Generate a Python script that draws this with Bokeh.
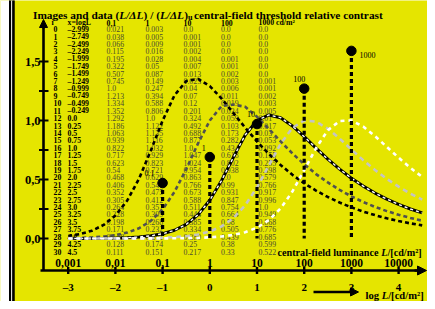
from bokeh.plotting import figure
from bokeh.models import Range1d, Arrow, NormalHead
from bokeh.core.properties import value
from bokeh.embed import file_html
from bokeh.resources import INLINE

# ---------------- data ----------------
row_index = list(range(31))
log_l = [-2.999, -2.749, -2.499, -2.249, -1.999, -1.749, -1.499, -1.249, -0.999, -0.749,
         -0.499, -0.249, 0.0, 0.25, 0.5, 0.75, 1.0, 1.25, 1.5, 1.75, 2.0, 2.25, 2.5, 2.75,
         3.0, 3.25, 3.5, 3.75, 4.0, 4.25, 4.5]
c01 = [0.021, 0.038, 0.066, 0.115, 0.195, 0.322, 0.507, 0.745, 1.0, 1.213, 1.334, 1.352,
       1.292, 1.186, 1.063, 0.939, 0.822, 0.717, 0.623, 0.54, 0.468, 0.406, 0.352, 0.305,
       0.264, 0.228, 0.198, 0.171, 0.148, 0.128, 0.111]
c1 = [0.003, 0.005, 0.009, 0.016, 0.028, 0.05, 0.087, 0.149, 0.247, 0.394, 0.588, 0.806,
      1.0, 1.122, 1.135, 1.116, 1.032, 0.929, 0.823, 0.721, 0.629, 0.546, 0.475, 0.412,
      0.357, 0.309, 0.268, 0.232, 0.201, 0.174, 0.151]
c10 = [0.0, 0.001, 0.001, 0.002, 0.004, 0.007, 0.013, 0.023, 0.04, 0.07, 0.12, 0.201,
       0.324, 0.492, 0.688, 0.877, 1.0, 1.047, 1.024, 0.954, 0.863, 0.766, 0.673, 0.588,
       0.511, 0.444, 0.385, 0.334, 0.289, 0.25, 0.217]
c100 = [0.0, 0.0, 0.0, 0.0, 0.001, 0.001, 0.002, 0.003, 0.006, 0.011, 0.019, 0.034,
        0.059, 0.103, 0.173, 0.282, 0.434, 0.618, 0.802, 0.938, 1.0, 0.99, 0.931, 0.847,
        0.754, 0.664, 0.58, 0.505, 0.439, 0.38, 0.33]
c1000 = [0.0, 0.0, 0.0, 0.0, 0.0, 0.0, 0.0, 0.001, 0.001, 0.002, 0.003, 0.005, 0.01,
         0.017, 0.03, 0.053, 0.092, 0.155, 0.255, 0.398, 0.579, 0.766, 0.917, 0.996, 1.0,
         0.949, 0.868, 0.776, 0.685, 0.599, 0.522]
series = [c01, c1, c10, c100, c1000]
column_headers = ["0,1", "1", "10", "100", "1000 cd/m²"]

dot_names = ["0.1", "1", "10", "100", "1000"]
dot_logl = [-1.0, 0.0, 1.0, 2.0, 3.0]
dot_val = [0.47, 0.69, 0.97, 1.27, 1.59]

y_major = [0.0, 0.5, 1.0, 1.5]
y_major_labels = ["0,0", "0,5", "1,0", "1,5"]
y_minor = [0.25, 0.75, 1.25]
x_ticks = [-3, -2, -1, 0, 1, 2, 3, 4]
x_tick_labels = ["–3", "–2", "–1", "0", "1", "2", "3", "4"]
lum_labels = ["0,001", "0,01", "0,1", "1", "10", "100", "1000", "10000"]

# ---------------- layout ----------------
W, H = 427, 301
XS, X0 = 47.2, 209.3      # px per unit, px of x=0
YS, Y0 = 118.0, 238.0     # px per unit, px of y=0 from top
YEL = "#e5e500"
FONT = value("Liberation Serif")


def px(xr):  # pixel -> data x
    return (xr - X0) / XS


def py(yr):  # pixel (from top) -> data y
    return (Y0 - yr) / YS


p = figure(width=W, height=H, output_backend="svg", toolbar_location=None,
           x_range=Range1d(-X0 / XS, (W - X0) / XS),
           y_range=Range1d(-(H - Y0) / YS, Y0 / YS),
           x_axis_type=None, y_axis_type=None, min_border=0,
           background_fill_color=YEL, border_fill_color="white",
           outline_line_color=None)

# frame strips
p.quad(left=[px(-5)], right=[px(9)], top=[py(-5)], bottom=[py(320)], color="white")
p.quad(left=[px(9)], right=[px(11.2)], top=[py(-5)], bottom=[py(320)], color="black")
p.quad(left=[px(11.2)], right=[px(12.2)], top=[py(-5)], bottom=[py(320)], color="white")
p.quad(left=[px(12.2)], right=[px(13.7)], top=[py(-5)], bottom=[py(320)], color="black")

# widths for rich text (Times Bold metrics)
B = {' ': 250, '(': 333, ')': 333, '/': 278, '-': 333, ',': 250, '.': 250, '[': 333,
     ']': 333, 'I': 389, 'L': 667, 'Δ': 650, '²': 300,
     'a': 500, 'b': 556, 'c': 444, 'd': 556, 'e': 444, 'f': 333, 'g': 500, 'h': 556,
     'i': 278, 'l': 278, 'm': 833, 'n': 556, 'o': 500, 'r': 444, 's': 389, 't': 333,
     'u': 556, 'v': 500}
BI = {'L': 611, '/': 278, 'Δ': 650}


def tw(s, style):
    tab = BI if style == "bold italic" else B
    return sum(tab.get(ch, B.get(ch, 500)) for ch in s)


def rich(pieces, x0, base, size):
    x = x0
    for txt, style, scale, shift in pieces:
        fs = size * scale
        p.text(x=[px(x)], y=[py(base + shift)], text=[txt], text_font=FONT,
               text_font_style=style, text_font_size=f"{fs:.2f}px",
               text_baseline="alphabetic", text_align="left", text_color="black")
        x += tw(txt, style) * fs / 1000.0


rich([("Images and data (", "bold", 1, 0), ("L/ΔL", "bold italic", 1, 0),
      (") / (", "bold", 1, 0), ("L/ΔL", "bold italic", 1, 0), (")", "bold", 1, 0),
      ("u", "bold", 0.72, 2.5), (" ", "bold", 0.5, 0),
      ("central-field threshold relative contrast", "bold", 1, 0)], 32.5, 14.8, 11.3)

# ---------------- table ----------------
row_y = [py(28.7 + i * 7.41) for i in row_index]
TS = "7.8px"
p.text(x=[px(51)], y=[py(22.3)], text=["i"], text_font=FONT, text_font_style="bold",
       text_font_size=TS, text_baseline="middle")
p.text(x=[px(67)], y=[py(22.3)], text=["x=logL"], text_font=FONT, text_font_style="bold",
       text_font_size=TS, text_baseline="middle")
p.text(x=[px(53)] * 31, y=row_y, text=[str(i) for i in row_index], text_font=FONT,
       text_font_style="bold", text_font_size=TS, text_baseline="middle")
p.text(x=[px(67)] * 31, y=row_y, text=[str(v).replace("-", "–") for v in log_l],
       text_font=FONT, text_font_style="bold", text_font_size=TS, text_baseline="middle")
col_x = [106, 145, 183, 220.5, 258]
for cx, head, vals in zip(col_x, column_headers, series):
    p.text(x=[px(cx)], y=[py(22.3)], text=[head], text_font=FONT, text_font_style="bold",
           text_font_size=TS, text_baseline="middle")
    p.text(x=[px(cx)] * 31, y=row_y, text=[str(v) for v in vals], text_font=FONT,
           text_font_size=TS, text_baseline="middle", text_color="#4a4a30")

# ---------------- curves ----------------
p.line(log_l, c01, line_color="black", line_width=2.6, line_dash="4 3")
p.line(log_l, c1, line_color="#505050", line_width=2.6, line_dash="4 3")
p.line(log_l, c10, line_color="black", line_width=3.0)
p.line(log_l, c10, line_color="white", line_width=1.4, line_dash="3 3")
p.line(log_l, c100, line_color="#c4c4c4", line_width=2.6, line_dash="5 4")
p.line(log_l, c1000, line_color="white", line_width=2.6, line_dash="4 4")

# vertical dashed lines and dots
p.segment(x0=dot_logl, y0=dot_val, x1=dot_logl, y1=[0.0] * 5, line_color="black",
          line_width=3.2, line_dash="4 3")
p.scatter(dot_logl, dot_val, size=9.5, color="black")
offs_x = [-13, -6, -6, -5, 16]
offs_y = [-10, -9, -10, -10, 4]
for n, xx, yy, ox, oy in zip(dot_names, dot_logl, dot_val, offs_x, offs_y):
    p.text(x=[xx], y=[yy], text=[n], x_offset=ox, y_offset=oy, text_font=FONT,
           text_font_size="8px", text_align="center", text_baseline="middle",
           text_color="black")

# ---------------- axes ----------------
ax_x = px(43)
ax_y = py(270)
p.line([ax_x, ax_x], [ax_y, py(26)], line_color="black", line_width=2.6)
p.add_layout(Arrow(end=NormalHead(size=8, fill_color="black", line_color="black"),
                   x_start=ax_x, y_start=py(28), x_end=ax_x, y_end=py(19),
                   line_width=2.6, line_color="black"))
p.line([px(40), px(418)], [ax_y, ax_y], line_color="black", line_width=2.4)
p.add_layout(Arrow(end=NormalHead(size=9, fill_color="black", line_color="black"),
                   x_start=px(414), y_start=ax_y, x_end=px(426), y_end=ax_y,
                   line_width=2.4, line_color="black"))

# y ticks
yt = y_major + y_minor
p.segment(x0=[px(38.5)] * len(yt), y0=yt, x1=[px(48)] * len(yt), y1=yt,
          line_color="black", line_width=2.2)
p.text(x=[px(40)] * 4, y=y_major, text=y_major_labels, text_font=FONT,
       text_font_style="bold", text_font_size="12.5px", text_align="right",
       text_baseline="middle")

# x ticks
p.segment(x0=x_ticks, y0=[py(266.5)] * 8, x1=x_ticks, y1=[py(273.5)] * 8,
          line_color="black", line_width=2.4)
p.text(x=x_ticks, y=[py(262.5)] * 8, text=lum_labels, text_font=FONT,
       text_font_style="bold", text_font_size="11.5px", text_align="center",
       text_baseline="alphabetic")
p.text(x=x_ticks, y=[py(286.5)] * 8, text=x_tick_labels, text_font=FONT,
       text_font_style="bold", text_font_size="11px", text_align="center",
       text_baseline="alphabetic")

rich([("central-field luminance ", "bold", 1, 0), ("L", "bold italic", 1, 0),
      ("/[cd/m²]", "bold", 1, 0)], 277, 251.5, 10.2)

p.add_layout(Arrow(end=NormalHead(size=8, fill_color="black", line_color="black"),
                   x_start=px(313), y_start=py(291.5), x_end=px(358), y_end=py(291.5),
                   line_width=2.4, line_color="black"))
rich([("log ", "bold", 1, 0), ("L", "bold italic", 1, 0),
      ("/[cd/m²]", "bold", 1, 0)], 365, 294.5, 10.6)

open("out.html", "w").write(file_html(p, INLINE))
